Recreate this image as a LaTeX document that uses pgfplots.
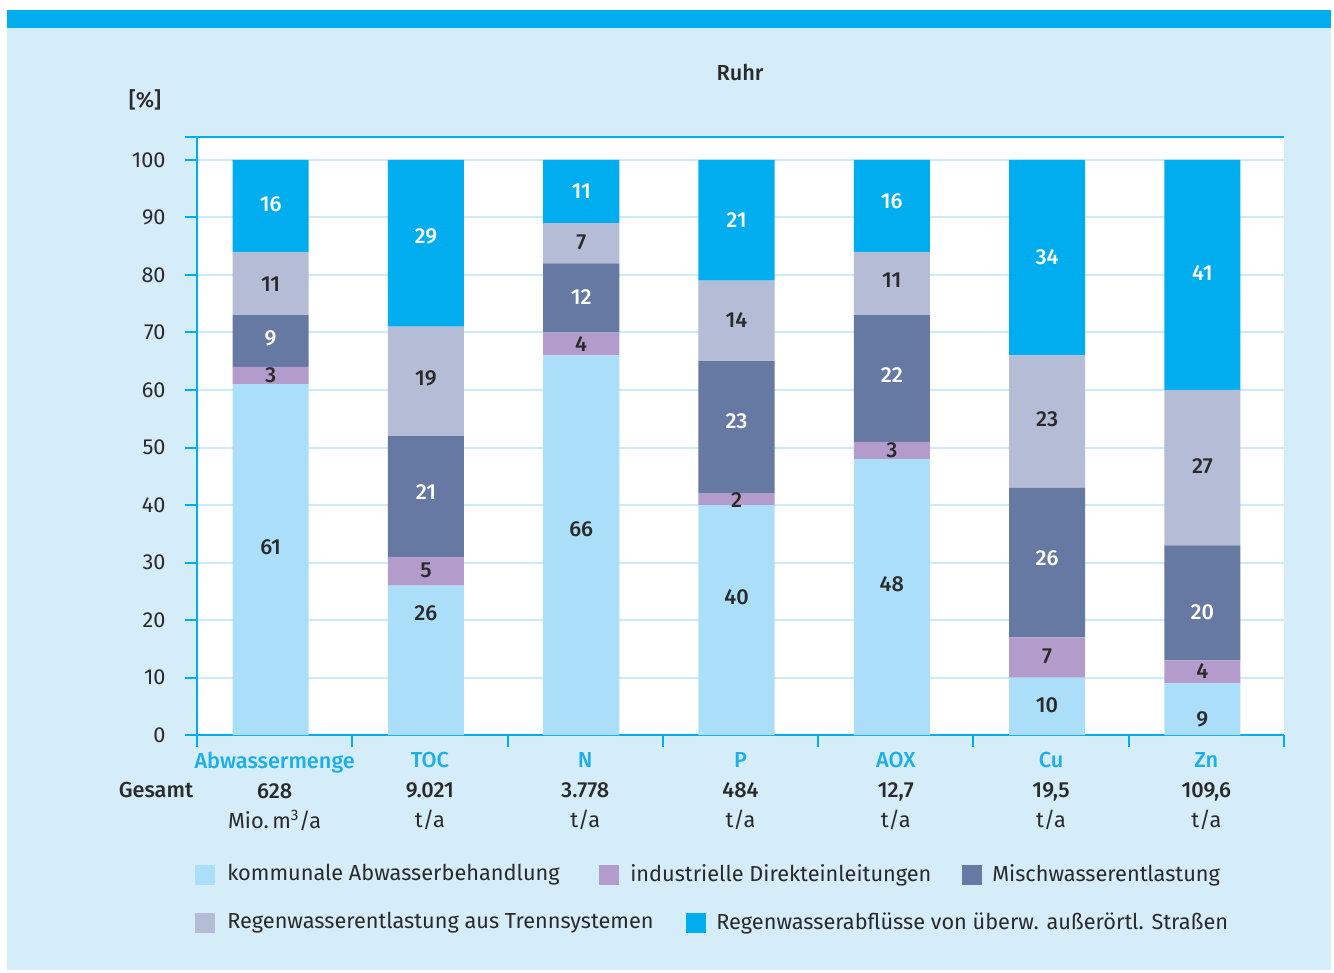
\documentclass[border=0pt]{standalone}
\usepackage{fontspec}
\setmainfont{Fira Sans}[BoldFont={Fira Sans Medium}]
\usepackage{pgfplots}
\usepackage{pgfplotstable}
\pgfplotsset{compat=1.18}
\definecolor{bgblue}{HTML}{D5ECF9}
\definecolor{topcyan}{HTML}{00AEEF}
\definecolor{cKomm}{HTML}{ABDFF9}
\definecolor{cInd}{HTML}{B39CCB}
\definecolor{cMisch}{HTML}{6679A3}
\definecolor{cTrenn}{HTML}{B4BCD6}
\definecolor{cStr}{HTML}{00AEEF}
\definecolor{gridc}{HTML}{CDEAF8}
\definecolor{txt}{HTML}{2A2A2A}
\definecolor{catc}{HTML}{1AAEEA}
% Zn: Regenwasserabfluesse plotted as 40 so the bar ends at 100 as in the reference (label reads 41)
\pgfplotstableread{
x komm ind misch trenn stra
0 61 3 9 11 16
1 26 5 21 19 29
2 66 4 12 7 11
3 40 2 23 14 21
4 48 3 22 11 16
5 10 7 26 23 34
6 9 4 20 27 40
}\datatable
\newcommand{\fs}{\fontsize{16.3}{22.5}\selectfont}
\begin{document}
\begin{tikzpicture}[x=0.75pt,y=0.75pt]
\fill[white] (0,0) rectangle (1334,972);
\fill[bgblue] (7,2) rectangle (1331,962);
\fill[topcyan] (7,944) rectangle (1331,962);
\coordinate (O) at (197,237);
\node[font=\fs\bfseries, text=txt] at (740,900) {Ruhr};
\node[font=\fs\bfseries, text=txt] at (145,872) {[\%]};
\node[font=\fs\bfseries, text=txt] at (156,182) {Gesamt};
\begin{axis}[
  at={(O)}, anchor=south west,
  scale only axis, width=815.25pt, height=448.5pt,
  xmin=-0.5, xmax=6.5, ymin=0, ymax=104,
  ybar stacked, bar width=0.49, bar shift=-3pt,
  axis lines=left,
  axis line style={-, topcyan, line width=1.5pt},
  axis background/.style={fill=white},
  ytick={0,10,...,100},
  ymajorgrids, grid style={gridc, line width=1.5pt},
  xtick={-0.5,0.5,...,6.5}, xticklabels={},
  tick align=outside, major tick length=9pt,
  tick style={topcyan, line width=1.5pt},
  /pgf/number format/assume math mode=true,
  yticklabel style={font=\fs, text=txt, xshift=-11pt},
  extra x ticks={0,1,2,3,4,5,6},
  extra x tick style={major tick length=0pt, grid=none, tick style={draw=none}},
  extra x tick labels={
    {\textcolor{catc}{\bfseries Abwassermenge}\\{\bfseries 628}\\Mio.\,m\textsuperscript{3}/a},
    {\textcolor{catc}{\bfseries TOC}\\{\bfseries 9.021}\\t/a},
    {\textcolor{catc}{\bfseries N}\\{\bfseries 3.778}\\t/a},
    {\textcolor{catc}{\bfseries P}\\{\bfseries 484}\\t/a},
    {\textcolor{catc}{\bfseries AOX}\\{\bfseries 12,7}\\t/a},
    {\textcolor{catc}{\bfseries Cu}\\{\bfseries 19,5}\\t/a},
    {\textcolor{catc}{\bfseries Zn}\\{\bfseries 109,6}\\t/a}},
  xticklabel style={font=\fs, text=txt, align=center, anchor=north, yshift=-9.5pt},
  clip=false,
]
\addplot[fill=cKomm, draw=none] table[x=x, y=komm] {\datatable};
\addplot[fill=cInd, draw=none] table[x=x, y=ind] {\datatable};
\addplot[fill=cMisch, draw=none] table[x=x, y=misch] {\datatable};
\addplot[fill=cTrenn, draw=none] table[x=x, y=trenn] {\datatable};
\addplot[fill=cStr, draw=none] table[x=x, y=stra] {\datatable};
\draw[topcyan, line width=1.5pt] ([xshift=-9pt]rel axis cs:0,1) -- (rel axis cs:1,1);
\end{axis}
\begin{axis}[
  at={(O)}, anchor=south west,
  scale only axis, width=815.25pt, height=448.5pt,
  xmin=-0.5, xmax=6.5, ymin=0, ymax=104,
  hide axis, clip=false,
  point meta=explicit symbolic,
  nodes near coords,
  every node near coord/.append style={anchor=center, xshift=-3pt, font=\fs\bfseries},
]
\addplot[only marks, mark=none, nodes near coords style={text=txt}] coordinates {
 (0,32.7)[61] (0,62.6)[3] (0,78.4)[11]
 (1,21.2)[26] (1,28.7)[5] (1,62.1)[19]
 (2,35.8)[66] (2,68.0)[4] (2,85.6)[7]
 (3,24.0)[40] (3,40.9)[2] (3,72.2)[14]
 (4,26.3)[48] (4,49.6)[3] (4,79.1)[11]
 (5,5.2)[10] (5,13.7)[7] (5,55.0)[23]
 (6,2.8)[9] (6,11.1)[4] (6,46.8)[27]
};
\addplot[only marks, mark=none, nodes near coords style={text=white}] coordinates {
 (0,68.9)[9] (0,92.3)[16]
 (1,42.3)[21] (1,86.8)[29]
 (2,76.2)[12] (2,94.6)[11]
 (3,54.6)[23] (3,89.6)[21]
 (4,62.6)[22] (4,92.9)[16]
 (5,30.8)[26] (5,83.1)[34]
 (6,21.4)[20] (6,80.3)[41]
};
\end{axis}
% legend
\begin{scope}[font=\fs, text=txt]
\fill[cKomm] (195,87) rectangle (215,107);
\node[anchor=west, inner sep=0pt] at (227,97) {kommunale Abwasserbehandlung};
\fill[cInd] (599,87) rectangle (619,107);
\node[anchor=west, inner sep=0pt] at (630,97) {industrielle Direkteinleitungen};
\fill[cMisch] (962,87) rectangle (982,107);
\node[anchor=west, inner sep=0pt] at (992,97) {Mischwasserentlastung};
\fill[cTrenn] (195,39) rectangle (215,59);
\node[anchor=west, inner sep=0pt] at (227,49) {Regenwasserentlastung aus Trennsystemen};
\fill[cStr] (686,39) rectangle (706,59);
\node[anchor=west, inner sep=0pt] at (716,49) {Regenwasserabflüsse von überw. außerörtl. Straßen};
\end{scope}
\end{tikzpicture}
\end{document}
